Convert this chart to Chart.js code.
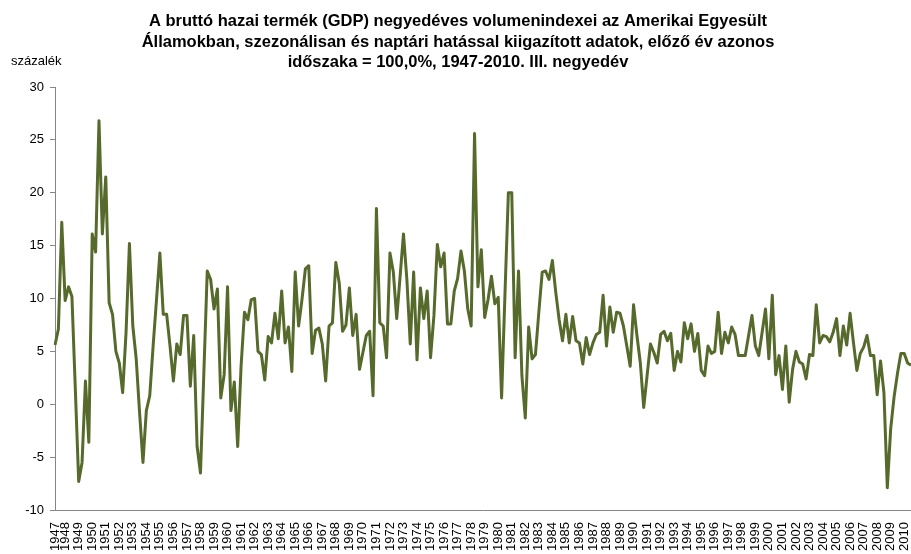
<!DOCTYPE html>
<html>
<head>
<meta charset="utf-8">
<script src="https://cdn.jsdelivr.net/npm/chart.js@4.4.1/dist/chart.umd.min.js"></script>
<style>
  html, body { margin: 0; padding: 0; background: #fff; overflow: hidden; }
</style>
</head>
<body>
<canvas id="gdpChart" width="911" height="554"></canvas>
<script>
// Year tick labels on the category axis
const years = [
  1947, 1948, 1949, 1950, 1951, 1952, 1953, 1954, 1955, 1956, 1957, 1958, 1959, 1960, 1961, 1962,
  1963, 1964, 1965, 1966, 1967, 1968, 1969, 1970, 1971, 1972, 1973, 1974, 1975, 1976, 1977, 1978,
  1979, 1980, 1981, 1982, 1983, 1984, 1985, 1986, 1987, 1988, 1989, 1990, 1991, 1992, 1993, 1994,
  1995, 1996, 1997, 1998, 1999, 2000, 2001, 2002, 2003, 2004, 2005, 2006, 2007, 2008, 2009, 2010
];
const firstQuarter = 2;   // series starts 1947 Q2
const lastQuarter = 3;    // series ends 2010 Q3
const quarterNames = ['I.', 'II.', 'III.', 'IV.'];

// Quarterly values (%)
const gdpValues = [
  5.6, 7.1, 17.2, 9.8, 11.1, 10.2, 1.5, -7.3, -5.5, 2.2,
  -3.6, 16.1, 14.4, 26.8, 16.1, 21.5, 9.6, 8.5, 5.0, 3.9,
  1.1, 6.8, 15.2, 7.4, 4.3, -0.8, -5.5, -0.6, 0.8, 5.5,
  9.9, 14.3, 8.5, 8.5, 5.5, 2.2, 5.7, 4.7, 8.4, 8.4,
  1.7, 6.5, -4.0, -6.5, 3.0, 12.6, 11.8, 9.0, 10.9, 0.6,
  2.8, 11.1, -0.6, 2.1, -4.0, 3.6, 8.7, 8.0, 9.9, 10.0,
  5.0, 4.7, 2.3, 6.4, 5.8, 8.6, 6.2, 10.7, 5.8, 7.3,
  3.1, 12.5, 7.4, 9.9, 12.8, 13.1, 4.8, 7.0, 7.2, 5.7,
  2.2, 7.4, 7.7, 13.4, 11.5, 6.9, 7.5, 11.0, 6.5, 8.5,
  3.3, 4.9, 6.5, 6.9, 0.8, 18.5, 7.7, 7.4, 4.4, 14.3,
  12.5, 8.1, 12.1, 16.1, 11.8, 5.7, 12.5, 4.2, 11.0, 8.1,
  10.7, 4.4, 8.4, 15.1, 13.0, 14.3, 7.6, 7.6, 10.7, 11.9,
  14.5, 12.6, 9.0, 7.4, 25.6, 11.1, 14.6, 8.2, 9.9, 12.1,
  9.5, 10.1, 0.6, 10.5, 20.0, 20.0, 4.4, 12.6, 2.7, -1.3,
  7.3, 4.3, 4.7, 8.7, 12.5, 12.6, 11.8, 13.6, 10.6, 8.0,
  6.0, 8.5, 5.8, 8.3, 6.0, 5.8, 3.8, 6.3, 4.7, 5.8,
  6.6, 6.8, 10.3, 5.5, 9.2, 6.8, 8.7, 8.6, 7.4, 5.5,
  3.6, 9.4, 6.5, 3.9, -0.3, 2.7, 5.7, 4.9, 3.9, 6.6,
  6.9, 6.0, 6.7, 3.2, 5.0, 4.0, 7.7, 6.2, 7.6, 5.0,
  6.7, 3.2, 2.7, 5.5, 4.8, 5.0, 8.7, 4.8, 6.8, 5.8,
  7.3, 6.6, 4.6, 4.6, 4.6, 6.5, 8.4, 5.5, 4.6, 6.8,
  9.0, 4.3, 10.3, 2.8, 4.6, 1.4, 5.5, 0.2, 3.3, 5.0,
  4.0, 3.8, 2.4, 4.7, 4.6, 9.4, 5.8, 6.5, 6.4, 5.9,
  6.8, 8.1, 4.6, 7.4, 5.6, 8.6, 5.8, 3.2, 4.8, 5.4,
  6.5, 4.6, 4.6, 0.9, 4.1, 1.1, -7.9, -2.3, 0.7, 2.9,
  4.8, 4.8, 3.9, 3.7
];

const titleLines = [
  'A bruttó hazai termék (GDP) negyedéves volumenindexei az Amerikai Egyesült',
  'Államokban, szezonálisan és naptári hatással kiigazított adatok, előző év azonos',
  'időszaka = 100,0%, 1947-2010. III. negyedév'
];
const unitLabel = 'százalék';

// Build quarterly categories; only the first quarter shown of each year gets a label
const labels = [];
const tickText = [];
years.forEach((year, yi) => {
  for (let q = 1; q <= 4; q++) {
    if (yi === 0 && q < firstQuarter) continue;
    if (yi === years.length - 1 && q > lastQuarter) continue;
    tickText.push(labels.length === 0 || q === 1 ? String(year) : '');
    labels.push(year + '. ' + quarterNames[q - 1]);
  }
});

const FONT = '"Liberation Sans", Arial, sans-serif';
const axisGrey = '#868686';

// Title and unit text drawn straight on the canvas
const textPlugin = {
  id: 'chartTexts',
  afterDraw(chart) {
    const { ctx } = chart;
    ctx.save();
    ctx.fillStyle = '#000';
    ctx.font = 'bold 16.5px ' + FONT;
    ctx.textAlign = 'center';
    ctx.textBaseline = 'alphabetic';
    titleLines.forEach((line, i) => ctx.fillText(line, 458, 26 + i * 20.5));
    ctx.font = '13px ' + FONT;
    ctx.textAlign = 'left';
    ctx.fillText(unitLabel, 11, 65);
    ctx.restore();
  }
};

const ctx = document.getElementById('gdpChart').getContext('2d');
const gdpChart = new Chart(ctx, {
  type: 'line',
  data: {
    labels: labels,
    datasets: [{
      data: gdpValues,
      borderColor: '#566a2c',
      borderWidth: 3,
      borderJoinStyle: 'round',
      pointRadius: 0,
      tension: 0,
      fill: false
    }]
  },
  options: {
    responsive: false,
    animation: false,
    // the last quarter sits just past the right edge, as in the original crop
    layout: { padding: { top: 87, right: -2, left: 0, bottom: 0 } },
    plugins: {
      legend: { display: false },
      tooltip: { enabled: false }
    },
    scales: {
      x: {
        type: 'category',
        offset: false,
        grid: { display: false, drawTicks: false },
        border: { display: true, color: axisGrey, width: 1 },
        ticks: {
          autoSkip: false,
          minRotation: 90,
          maxRotation: 90,
          padding: 12,
          color: '#000',
          font: { family: FONT, size: 13 },
          callback: (val, idx) => tickText[idx]
        },
        afterFit: scale => {
          scale.height = 44;
          scale.paddingLeft = 0;
          scale.paddingRight = 0;
        }
      },
      y: {
        min: -10,
        max: 30,
        ticks: {
          stepSize: 5,
          padding: 6,
          color: '#000',
          font: { family: FONT, size: 13 }
        },
        grid: { drawOnChartArea: false, drawTicks: true, tickLength: 5, color: axisGrey },
        border: { color: axisGrey, width: 1 },
        afterFit: scale => { scale.width = 55; }
      }
    }
  },
  plugins: [textPlugin]
});
</script>
</body>
</html>
